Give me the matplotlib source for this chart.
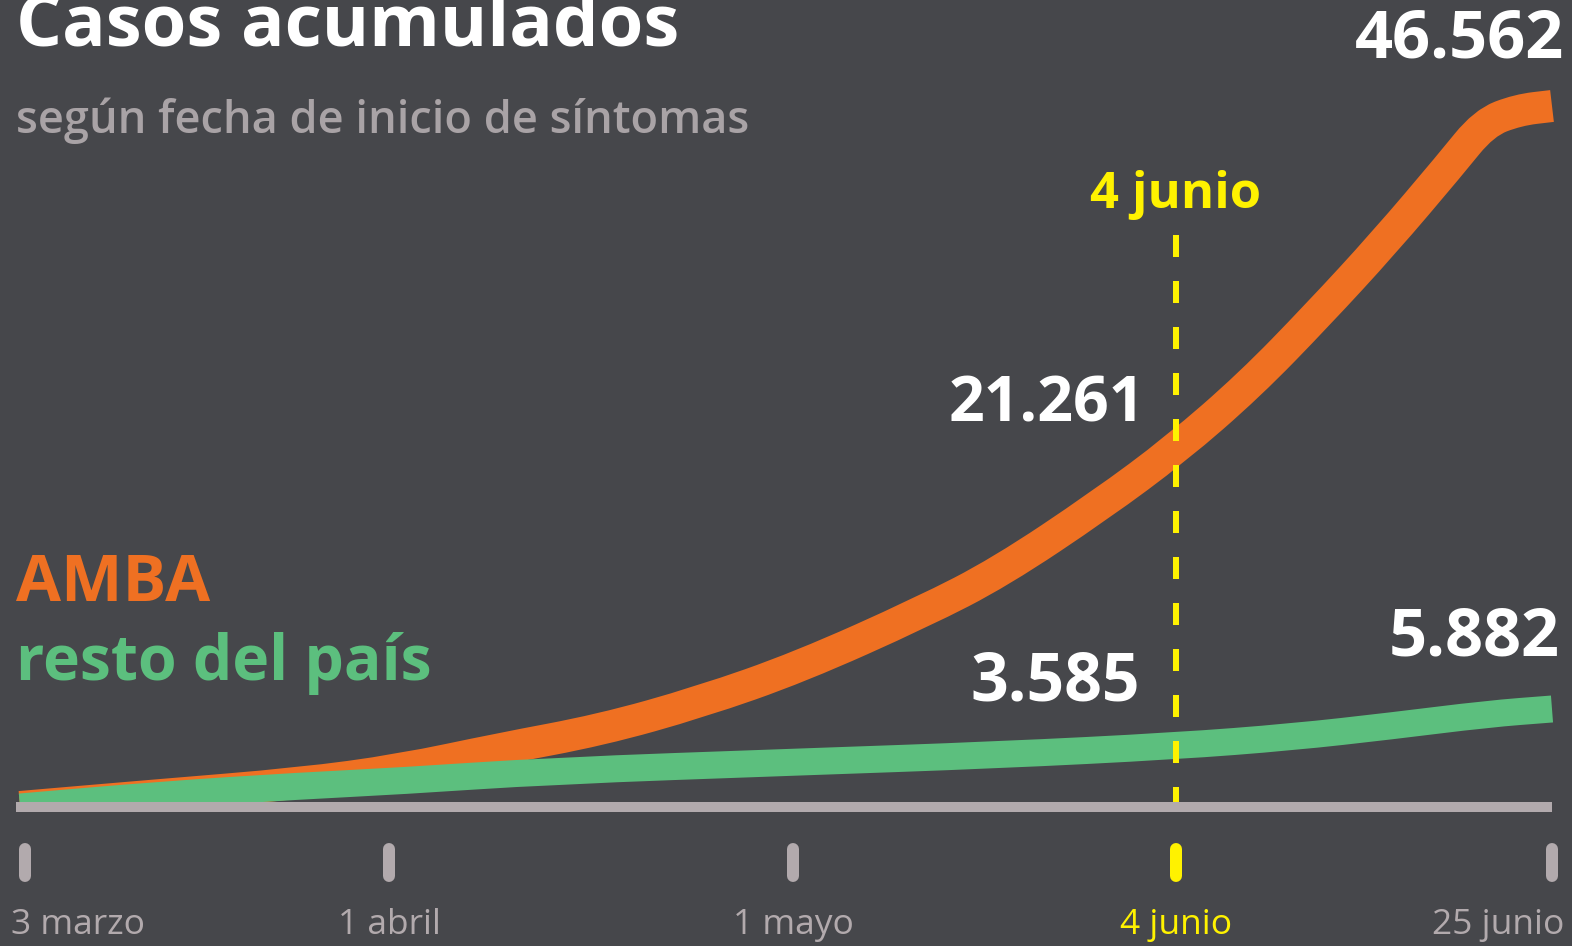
import numpy as np
import matplotlib
matplotlib.use("Agg")
import matplotlib.pyplot as plt
import matplotlib.transforms as mtransforms
from matplotlib.path import Path
from matplotlib.patches import PathPatch, Rectangle

plt.rcParams['font.family'] = ['Open Sans', 'DejaVu Sans']

# Days since 3 March and cumulative cases
amba_days = [0, 10.5, 22.0, 29.8, 37.2, 44.7, 52.1, 59.6, 70.5, 77.4, 86.3,
             93.0, 97.1, 100.9, 104.6, 108.3, 110.2, 112.1, 114.0]
amba_cases = [0, 760, 1560, 2458, 3853, 5115, 6975, 9299, 12950, 15610, 20060,
              23780, 28030, 32680, 37460, 42640, 45434, 46297, 46562]

resto_days = [0, 11.0, 22.0, 29.8, 41.0, 59.6, 77.1, 93.0, 99.5, 105.0, 110.4, 114.0]
resto_cases = [0, 797, 1395, 1727, 2391, 2989, 3454, 4052, 4650, 5380, 6177, 6510]

tick_days = [0, 29, 59, 93, 114]
tick_labels = ['3 marzo', '1 abril', '1 mayo', '4 junio', '25 junio']
highlight_day = 93

value_labels = ['46.562', '21.261', '3.585', '5.882']

# colours
BG = '#46474b'
ORANGE = '#ef7022'
GREEN = '#5cbf7e'
GREY = '#b2aaad'
SUB = '#a9a3a6'
YELLOW = '#fff200'
WHITE = '#ffffff'

W, H = 1572, 946
fig = plt.figure(figsize=(W / 100, H / 100), dpi=100, facecolor=BG)
ax = fig.add_axes([0, 0, 1, 1])
ax.set_facecolor(BG)

# the timeline is not linear in days: piecewise scale through the tick positions
tick_px = np.array([20, 389, 793, 1176, 1552], dtype=float)
tdays = np.array(tick_days, dtype=float)


def fwd(d):
    d = np.asarray(d, dtype=float)
    out = np.interp(d, tdays, tick_px)
    s0 = (tick_px[1] - tick_px[0]) / (tdays[1] - tdays[0])
    s1 = (tick_px[-1] - tick_px[-2]) / (tdays[-1] - tdays[-2])
    out = np.where(d < tdays[0], tick_px[0] + (d - tdays[0]) * s0, out)
    out = np.where(d > tdays[-1], tick_px[-1] + (d - tdays[-1]) * s1, out)
    return out


def inv(p):
    p = np.asarray(p, dtype=float)
    out = np.interp(p, tick_px, tdays)
    s0 = (tdays[1] - tdays[0]) / (tick_px[1] - tick_px[0])
    s1 = (tdays[-1] - tdays[-2]) / (tick_px[-1] - tick_px[-2])
    out = np.where(p < tick_px[0], tdays[0] + (p - tick_px[0]) * s0, out)
    out = np.where(p > tick_px[-1], tdays[-1] + (p - tick_px[-1]) * s1, out)
    return out


ax.set_xscale('function', functions=(fwd, inv))
ax.set_xlim(float(inv(0)), float(inv(W)))

# y: 0 cases on the base line, 46562 near the top
base_px, top_px = 807, 106
per_px = (base_px - top_px) / max(amba_cases)
ymin, ymax = -(H - base_px) / per_px, base_px / per_px
ax.set_ylim(ymin, ymax)
ax.axis('off')

PT = 72 / 100  # px -> points


def smooth_path(xs, ys):
    # quadratic bezier through the midpoints (in display space),
    # the data points act as the control points
    pts = ax.transData.transform(np.column_stack([xs, ys]).astype(float))
    verts = [pts[0], (pts[0] + pts[1]) / 2]
    codes = [Path.MOVETO, Path.LINETO]
    for i in range(1, len(pts) - 1):
        verts += [pts[i], (pts[i] + pts[i + 1]) / 2]
        codes += [Path.CURVE3, Path.CURVE3]
    verts.append(pts[-1])
    codes.append(Path.LINETO)
    return Path(verts, codes)


clip = Rectangle((float(inv(0)), 0), float(inv(W)) - float(inv(0)), ymax,
                 transform=ax.transData, visible=False)
ax.add_patch(clip)

for xs, ys, col, lw, z in [(amba_days, amba_cases, ORANGE, 32, 2),
                           (resto_days, resto_cases, GREEN, 27, 3)]:
    p = PathPatch(smooth_path(xs, ys), transform=mtransforms.IdentityTransform(),
                  fill=False, edgecolor=col, lw=lw * PT,
                  capstyle='butt', joinstyle='round', zorder=z)
    ax.add_patch(p)
    p.set_clip_path(clip)

ax.plot([inv(16), inv(1552)], [0, 0], color=GREY, lw=10 * PT,
        solid_capstyle='butt', zorder=4)

# dashed marker at 4 junio
trans = mtransforms.blended_transform_factory(ax.transData, ax.transAxes)
ax.plot([highlight_day, highlight_day], [1 - 235 / H, 1 - 802 / H], transform=trans,
        color=YELLOW, lw=6 * PT, linestyle=(0, (22 / 6, 24 / 6)),
        dash_capstyle='butt', zorder=5)

# rounded tick bars and labels
for d, lab in zip(tick_days, tick_labels):
    c = YELLOW if d == highlight_day else GREY
    bx = inv(25) if d == tick_days[0] else d
    ax.plot([bx, bx], [1 - 849 / H, 1 - 876 / H], transform=trans, color=c,
            lw=12 * PT, solid_capstyle='round', zorder=5)
    if d == tick_days[0]:
        ha, xx = 'left', inv(11)
    elif d == tick_days[-1]:
        ha, xx = 'right', inv(1564)
    else:
        ha, xx = 'center', d
    ax.text(xx, 1 - 934 / H, lab, transform=trans, ha=ha, va='baseline',
            fontsize=25.5, color=c)


def px(x, y):
    return x / W, 1 - y / H


fig.text(*px(16, 46), 'Casos acumulados', fontsize=52, fontweight='bold',
         color=WHITE, ha='left', va='baseline')
fig.text(*px(16, 133), 'según fecha de inicio de síntomas', fontsize=32.5,
         fontweight='semibold', color=SUB, ha='left', va='baseline')

fig.text(*px(1564, 58), value_labels[0], fontsize=48, fontweight='bold',
         color=WHITE, ha='right', va='baseline')
fig.text(*px(1145, 421), value_labels[1], fontsize=45, fontweight='bold',
         color=WHITE, ha='right', va='baseline')
fig.text(*px(1140, 700), value_labels[2], fontsize=47.5, fontweight='bold',
         color=WHITE, ha='right', va='baseline')
fig.text(*px(1560, 656), value_labels[3], fontsize=48, fontweight='bold',
         color=WHITE, ha='right', va='baseline')

fig.text(*px(1176, 208), '4 junio', fontsize=36.5, fontweight='bold',
         color=YELLOW, ha='center', va='baseline')

fig.text(*px(16, 601), 'AMBA', fontsize=47, fontweight='bold',
         color=ORANGE, ha='left', va='baseline')
fig.text(*px(16, 680), 'resto del país', fontsize=45, fontweight='bold',
         color=GREEN, ha='left', va='baseline')

fig.savefig('out.png', dpi=100, facecolor=BG)
